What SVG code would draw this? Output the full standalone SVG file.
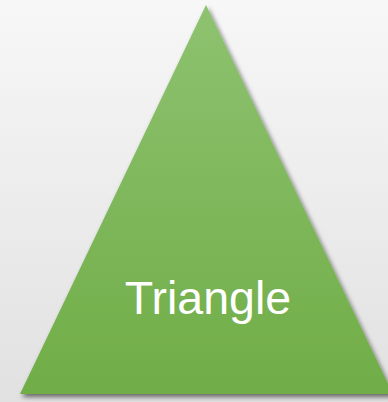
<svg xmlns="http://www.w3.org/2000/svg" width="388" height="402" viewBox="0 0 388 402">
  <defs>
    <linearGradient id="bg" x1="0" y1="0" x2="0" y2="1">
      <stop offset="0" stop-color="#f7f7f7"/>
      <stop offset="1" stop-color="#e1e1e1"/>
    </linearGradient>
    <linearGradient id="fill" x1="0" y1="0" x2="0" y2="1">
      <stop offset="0" stop-color="#8ec270"/>
      <stop offset="1" stop-color="#70ad47"/>
    </linearGradient>
    <filter id="shadow" x="-10%" y="-10%" width="120%" height="120%">
      <feGaussianBlur in="SourceAlpha" stdDeviation="2.5"/>
      <feOffset dx="2" dy="3" result="b"/>
      <feComponentTransfer><feFuncA type="linear" slope="0.55"/></feComponentTransfer>
      <feMerge><feMergeNode/><feMergeNode in="SourceGraphic"/></feMerge>
    </filter>
  </defs>
  <style>
    .label { font-family: "Liberation Sans", Arial, sans-serif; font-size: 46.5px; fill: #ffffff; }
  </style>
  <rect width="388" height="402" fill="url(#bg)"/>
  <g id="triangle">
    <polygon points="206,5 20,394 393,394" fill="url(#fill)" filter="url(#shadow)"/>
    <text class="label" x="208" y="314" text-anchor="middle">Triangle</text>
  </g>
</svg>
